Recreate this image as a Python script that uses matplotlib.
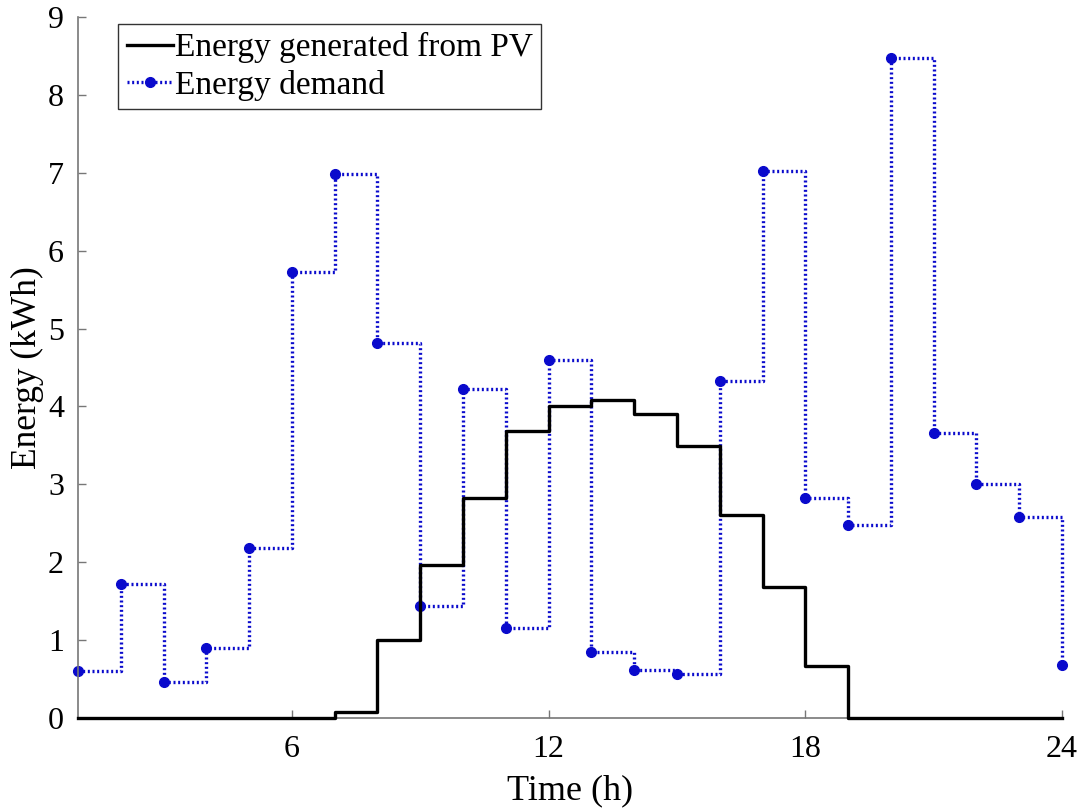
import matplotlib
matplotlib.use("Agg")
import matplotlib.pyplot as plt

hours = list(range(1, 25))
pv = [0, 0, 0, 0, 0, 0, 0.08, 1.0, 1.97, 2.83, 3.68, 4.0, 4.08, 3.9, 3.49, 2.6,
      1.68, 0.67, 0, 0, 0, 0, 0, 0]
demand = [0.6, 1.72, 0.46, 0.9, 2.18, 5.72, 6.98, 4.82, 1.44, 4.23, 1.16, 4.6,
          0.85, 0.62, 0.56, 4.33, 7.02, 2.82, 2.48, 8.48, 3.66, 3.0, 2.58, 0.68]
xticks = [6, 12, 18, 24]
yticks = list(range(0, 10))

plt.rcParams['font.family'] = ['Liberation Serif', 'DejaVu Serif']

fig = plt.figure(figsize=(10.83, 8.1), dpi=100)
ax = fig.add_axes([0.072, 0.1136, 0.9086, 0.8654])

ax.step(hours, pv, where='post', color='black', lw=2.4,
        label='Energy generated from PV', zorder=3, clip_on=False)
ax.step(hours, demand, where='post', color='#0a0acc', lw=2.4,
        dashes=(0.6, 0.8), marker='o', markersize=7,
        label='Energy demand', zorder=2, clip_on=False)

ax.set_xlim(1, 24)
ax.set_ylim(0, 9)
ax.set_xticks(xticks)
ax.set_yticks(yticks)
ax.tick_params(direction='in', length=6, width=1, color='#777777',
               labelsize=23)
ax.tick_params(axis='x', pad=12)
ax.tick_params(axis='y', pad=10)
for s in ['top', 'right']:
    ax.spines[s].set_visible(False)
for s in ['left', 'bottom']:
    ax.spines[s].set_color('#777777')
    ax.spines[s].set_linewidth(1.2)

ax.set_xlabel('Time (h)', fontsize=26, labelpad=8)
ax.set_ylabel('Energy (kWh)', fontsize=25.5, labelpad=3)

leg = ax.legend(loc='upper left', bbox_to_anchor=(0.041, 0.99), fontsize=24,
                frameon=True, fancybox=False, handlelength=1.4,
                handletextpad=0.05, borderpad=0.25, labelspacing=0.2,
                borderaxespad=0)
leg.get_frame().set_edgecolor('black')
leg.get_frame().set_linewidth(1.0)

fig.savefig('out.png', dpi=100)
